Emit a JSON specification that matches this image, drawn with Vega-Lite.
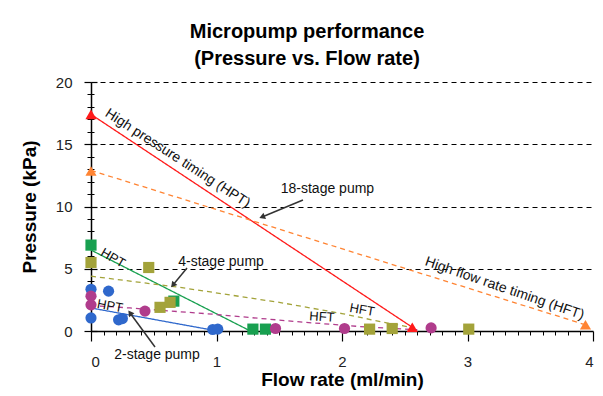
{
  "$schema": "https://vega.github.io/schema/vega-lite/v6.json",
  "width": 502,
  "height": 249,
  "autosize": {"type": "none"},
  "padding": {"left": 91, "top": 82, "right": 10, "bottom": 65},
  "background": "white",
  "title": {
    "text": ["Micropump performance", "(Pressure vs. Flow rate)"],
    "font": "Liberation Sans",
    "fontSize": 20,
    "fontWeight": "bold",
    "lineHeight": 27,
    "color": "#000",
    "anchor": "middle",
    "dx": -35,
    "offset": 6
  },
  "config": {
    "font": "Liberation Sans",
    "view": {"stroke": null},
    "axis": {"labelFont": "Liberation Sans", "titleFont": "Liberation Sans"}
  },
  "datasets": {
    "lines": [
      {"series": "HPT18", "x": 0, "y": 17.4},
      {"series": "HPT18", "x": 2.56, "y": 0.3},
      {"series": "HFT18", "x": 0, "y": 12.9},
      {"series": "HFT18", "x": 3.94, "y": 0.5},
      {"series": "HPT4", "x": 0, "y": 6.5},
      {"series": "HPT4", "x": 1.27, "y": 0},
      {"series": "HFT4", "x": 0, "y": 4.4},
      {"series": "HFT4", "x": 0.71, "y": 3.5},
      {"series": "HFT4", "x": 1.5, "y": 2.3},
      {"series": "HFT4", "x": 2.0, "y": 1.4},
      {"series": "HFT4", "x": 2.33, "y": 0.7},
      {"series": "HFT4", "x": 2.55, "y": 0.3},
      {"series": "HPT2", "x": 0, "y": 1.85},
      {"series": "HPT2", "x": 0.98, "y": 0.05},
      {"series": "HFT2", "x": 0, "y": 2.05},
      {"series": "HFT2", "x": 0.31, "y": 1.85},
      {"series": "HFT2", "x": 0.97, "y": 1.35},
      {"series": "HFT2", "x": 1.64, "y": 0.75},
      {"series": "HFT2", "x": 2.22, "y": 0.3},
      {"series": "HFT2", "x": 2.6, "y": 0.1}
    ],
    "points": [
      {"series": "HPT18", "x": 0, "y": 17.4},
      {"series": "HPT18", "x": 2.56, "y": 0.3},
      {"series": "HFT18", "x": 0, "y": 12.85},
      {"series": "HFT18", "x": 3.94, "y": 0.5},
      {"series": "HPT4", "x": 0, "y": 6.9},
      {"series": "HPT4", "x": 0.66, "y": 2.4},
      {"series": "HPT4", "x": 1.29, "y": 0.15},
      {"series": "HPT4", "x": 1.39, "y": 0.15},
      {"series": "HFT4", "x": 0, "y": 5.5},
      {"series": "HFT4", "x": 0.46, "y": 5.1},
      {"series": "HFT4", "x": 0.55, "y": 1.9},
      {"series": "HFT4", "x": 0.63, "y": 2.3},
      {"series": "HFT4", "x": 2.22, "y": 0.15},
      {"series": "HFT4", "x": 2.4, "y": 0.2},
      {"series": "HFT4", "x": 3.01, "y": 0.15},
      {"series": "HPT2", "x": 0, "y": 3.35},
      {"series": "HPT2", "x": 0.14, "y": 3.2},
      {"series": "HPT2", "x": 0, "y": 1.05},
      {"series": "HPT2", "x": 0.22, "y": 0.9},
      {"series": "HPT2", "x": 0.25, "y": 1.0},
      {"series": "HPT2", "x": 0.97, "y": 0.12},
      {"series": "HPT2", "x": 1.01, "y": 0.15},
      {"series": "HFT2", "x": 0, "y": 2.8},
      {"series": "HFT2", "x": 0, "y": 2.1},
      {"series": "HFT2", "x": 0.43, "y": 1.6},
      {"series": "HFT2", "x": 1.47, "y": 0.2},
      {"series": "HFT2", "x": 2.02, "y": 0.2},
      {"series": "HFT2", "x": 2.71, "y": 0.25}
    ],
    "notes": [
      {"label": "18-stage pump", "x": 1.884, "y": 11.4},
      {"label": "4-stage pump", "x": 1.036, "y": 5.54},
      {"label": "2-stage pump", "x": 0.526, "y": -1.93}
    ],
    "arrows": [
      {"id": "a18", "x": 1.689, "y": 10.52, "x2": 1.363, "y2": 9.16},
      {"id": "a4", "x": 0.765, "y": 5.06, "x2": 0.653, "y2": 3.69},
      {"id": "a2", "x": 0.51, "y": -1.29, "x2": 0.311, "y2": 1.45}
    ]
  },
  "layer": [
    {
      "data": {"name": "lines"},
      "mark": {"type": "line", "strokeWidth": 1.3},
      "encoding": {
        "x": {
          "field": "x", "type": "quantitative",
          "scale": {"domain": [0, 4], "nice": false, "zero": false},
          "axis": {
            "orient": "bottom", "values": [0, 1, 2, 3, 4], "format": "d",
            "title": "Flow rate (ml/min)", "grid": false,
            "domainColor": "#000", "domainWidth": 1.5,
            "tickColor": "#000", "tickSize": 10, "tickWidth": 1.2,
            "labelFontSize": 15, "labelColor": "#222", "labelPadding": 13,
            "titleFontSize": 19, "titleFontWeight": "bold", "titleColor": "#000",
            "titlePadding": 1
          }
        },
        "y": {
          "field": "y", "type": "quantitative",
          "scale": {"domain": [0, 20], "nice": false, "zero": false},
          "axis": {
            "orient": "left", "values": [0, 5, 10, 15, 20], "format": "d",
            "title": "Pressure (kPa)", "grid": true,
            "gridDash": [5, 4], "gridColor": "#000", "gridWidth": 1, "gridOpacity": 1,
            "domainColor": "#000", "domainWidth": 1.5,
            "tickColor": "#000", "tickSize": 7, "tickWidth": 1.2,
            "labelFontSize": 15, "labelColor": "#222", "labelPadding": 12,
            "titleFontSize": 19, "titleFontWeight": "bold", "titleColor": "#000",
            "titlePadding": 16
          }
        },
        "color": {
          "field": "series", "type": "nominal", "legend": null,
          "scale": {
            "domain": ["HPT18", "HFT18", "HPT4", "HFT4", "HPT2", "HFT2"],
            "range": ["#ff1a1a", "#ff8433", "#18a050", "#a3a33a", "#2f68cc", "#b03c8c"]
          }
        },
        "strokeDash": {
          "field": "series", "type": "nominal", "legend": null,
          "scale": {
            "domain": ["HPT18", "HFT18", "HPT4", "HFT4", "HPT2", "HFT2"],
            "range": [[1, 0], [5, 4], [1, 0], [5, 4], [1, 0], [5, 4]]
          }
        }
      }
    },
    {
      "data": {"name": "points"},
      "mark": {"type": "point", "filled": true, "opacity": 1},
      "encoding": {
        "x": {
          "field": "x", "type": "quantitative",
          "scale": {"domain": [0, 4], "nice": false, "zero": false},
          "axis": {
            "orient": "bottom",
            "values": [0.1, 0.2, 0.3, 0.4, 0.5, 0.6, 0.7, 0.8, 0.9, 1.1, 1.2, 1.3, 1.4, 1.5, 1.6, 1.7, 1.8, 1.9, 2.1, 2.2, 2.3, 2.4, 2.5, 2.6, 2.7, 2.8, 2.9, 3.1, 3.2, 3.3, 3.4, 3.5, 3.6, 3.7, 3.8, 3.9],
            "labels": false, "domain": false, "grid": false, "title": null,
            "tickSize": 4, "tickColor": "#000", "tickWidth": 1
          }
        },
        "y": {
          "field": "y", "type": "quantitative",
          "scale": {"domain": [0, 20], "nice": false, "zero": false},
          "axis": {
            "orient": "left",
            "values": [1, 2, 3, 4, 6, 7, 8, 9, 11, 12, 13, 14, 16, 17, 18, 19],
            "labels": false, "domain": false, "grid": false, "title": null,
            "tickSize": 7, "offset": -3, "tickColor": "#000", "tickWidth": 1
          }
        },
        "color": {"field": "series", "type": "nominal", "legend": null},
        "shape": {
          "field": "series", "type": "nominal", "legend": null,
          "scale": {
            "domain": ["HPT18", "HFT18", "HPT4", "HFT4", "HPT2", "HFT2"],
            "range": ["triangle-up", "triangle-up", "square", "square", "circle", "circle"]
          }
        },
        "size": {
          "field": "series", "type": "nominal", "legend": null,
          "scale": {
            "domain": ["HPT18", "HFT18", "HPT4", "HFT4", "HPT2", "HFT2"],
            "range": [125, 125, 60, 60, 75, 75]
          }
        }
      }
    },
    {
      "data": {"name": "notes"},
      "mark": {"type": "text", "fontSize": 14, "color": "#111", "align": "center", "baseline": "middle"},
      "encoding": {
        "x": {"field": "x", "type": "quantitative", "scale": {"domain": [0, 4], "nice": false, "zero": false}, "axis": null},
        "y": {
          "field": "y", "type": "quantitative",
          "scale": {"domain": [0, 20], "nice": false, "zero": false},
          "axis": {
            "orient": "left", "values": [0, 5, 10, 15, 20],
            "labels": false, "domain": false, "grid": false, "title": null,
            "tickSize": 6, "offset": -6, "tickColor": "#000", "tickWidth": 1.2
          }
        },
        "text": {"field": "label"}
      }
    },
    {
      "data": {"values": [{"label": "High pressure timing (HPT)", "x": 0.69, "y": 13.86}]},
      "mark": {"type": "text", "fontSize": 14, "color": "#111", "align": "center", "baseline": "middle", "angle": 33},
      "encoding": {
        "x": {"field": "x", "type": "quantitative", "axis": null},
        "y": {"field": "y", "type": "quantitative", "axis": null},
        "text": {"field": "label"}
      }
    },
    {
      "data": {"values": [{"label": "High flow rate timing (HFT)", "x": 3.295, "y": 3.41}]},
      "mark": {"type": "text", "fontSize": 14, "color": "#111", "align": "center", "baseline": "middle", "angle": 19},
      "encoding": {
        "x": {"field": "x", "type": "quantitative", "axis": null},
        "y": {"field": "y", "type": "quantitative", "axis": null},
        "text": {"field": "label"}
      }
    },
    {
      "data": {"values": [{"label": "HPT", "x": 0.175, "y": 5.86}]},
      "mark": {"type": "text", "fontSize": 13, "color": "#111", "align": "center", "baseline": "middle", "angle": 30},
      "encoding": {
        "x": {"field": "x", "type": "quantitative", "axis": null},
        "y": {"field": "y", "type": "quantitative", "axis": null},
        "text": {"field": "label"}
      }
    },
    {
      "data": {"values": [{"label": "HPT", "x": 0.151, "y": 2.0}, {"label": "HFT", "x": 2.16, "y": 1.69}]},
      "mark": {"type": "text", "fontSize": 13, "color": "#111", "align": "center", "baseline": "middle", "angle": 10},
      "encoding": {
        "x": {"field": "x", "type": "quantitative", "axis": null},
        "y": {"field": "y", "type": "quantitative", "axis": null},
        "text": {"field": "label"}
      }
    },
    {
      "data": {"values": [{"label": "HFT", "x": 1.84, "y": 1.12}]},
      "mark": {"type": "text", "fontSize": 13, "color": "#111", "align": "center", "baseline": "middle", "angle": 4},
      "encoding": {
        "x": {"field": "x", "type": "quantitative", "axis": null},
        "y": {"field": "y", "type": "quantitative", "axis": null},
        "text": {"field": "label"}
      }
    },
    {
      "data": {"name": "arrows"},
      "mark": {"type": "rule", "color": "#333", "strokeWidth": 1.5},
      "encoding": {
        "x": {"field": "x", "type": "quantitative", "axis": null},
        "y": {"field": "y", "type": "quantitative", "axis": null},
        "x2": {"field": "x2"},
        "y2": {"field": "y2"}
      }
    },
    {
      "data": {"name": "arrows"},
      "transform": [{"filter": "datum.id === 'a18'"}],
      "mark": {"type": "point", "shape": "triangle-up", "filled": true, "color": "#333", "opacity": 1, "size": 45, "angle": 247.5},
      "encoding": {
        "x": {"field": "x2", "type": "quantitative", "axis": null},
        "y": {"field": "y2", "type": "quantitative", "axis": null}
      }
    },
    {
      "data": {"name": "arrows"},
      "transform": [{"filter": "datum.id === 'a4'"}],
      "mark": {"type": "point", "shape": "triangle-up", "filled": true, "color": "#333", "opacity": 1, "size": 45, "angle": 219.5},
      "encoding": {
        "x": {"field": "x2", "type": "quantitative", "axis": null},
        "y": {"field": "y2", "type": "quantitative", "axis": null}
      }
    },
    {
      "data": {"name": "arrows"},
      "transform": [{"filter": "datum.id === 'a2'"}],
      "mark": {"type": "point", "shape": "triangle-up", "filled": true, "color": "#333", "opacity": 1, "size": 45, "angle": 323.7},
      "encoding": {
        "x": {"field": "x2", "type": "quantitative", "axis": null},
        "y": {"field": "y2", "type": "quantitative", "axis": null}
      }
    }
  ],
  "resolve": {"axis": {"x": "independent", "y": "independent"}}
}
